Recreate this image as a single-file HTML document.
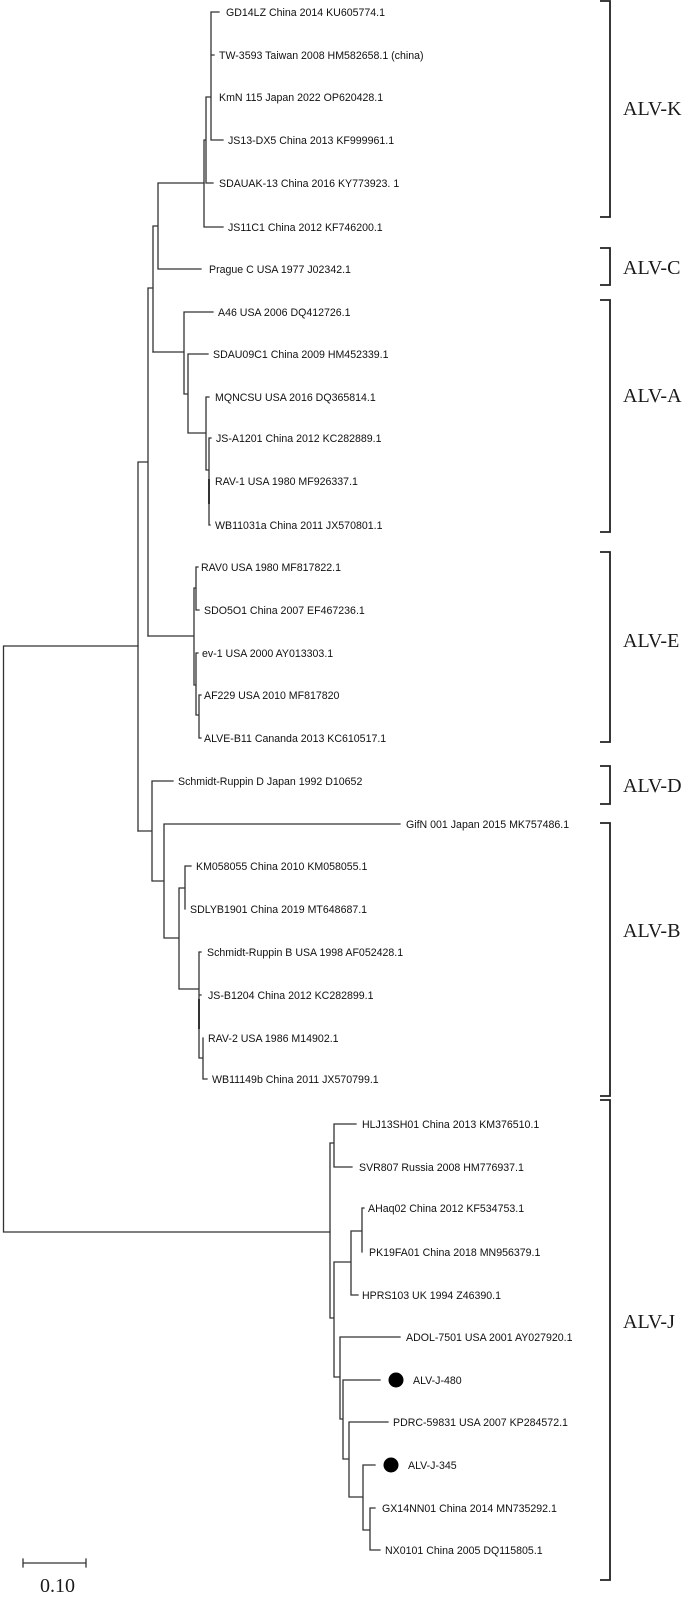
<!DOCTYPE html>
<html>
<head>
<meta charset="utf-8">
<style>
html,body{margin:0;padding:0;background:#fff;}
svg{display:block;}
.t{font-family:"Liberation Sans",Arial,sans-serif;font-size:10.6px;fill:#111;}
.c{font-family:"Liberation Serif","Times New Roman",serif;font-size:20px;fill:#1a1a1a;}
</style>
</head>
<body>
<svg width="700" height="1601" viewBox="0 0 700 1601" xmlns="http://www.w3.org/2000/svg">
<g fill="none" stroke="#333" stroke-width="1.3" stroke-linecap="square">
<!-- root -->
<path d="M3.5,646 V1232 M3.5,646 H138 M3.5,1232 H330"/>
<!-- upper clade -->
<path d="M138,462 V831 M138,462 H148 M148,288 V636 M148,288 H153 M153,226 V352 M153,226 H158 M158,183 V269 M158,269 H201 M158,183 H204"/>
<!-- K clade -->
<path d="M204,140 V227 M204,227 H223 M204,140 H206 M206,97 V183 M206,183 H213 M206,97 H211 M211,12 V140 M211,12 H219 M211,55 H214 M211,140 H223"/>
<!-- A clade -->
<path d="M153,352 H184 M184,312 V394 M184,312 H213 M184,394 H188 M188,354 V433 M188,354 H208 M188,433 H206 M206,397 V470 M206,397 H209 M206,470 H209 M209,438 V525 M209,438 H211 M209,525 H210"/>
<path d="M209,480 V503" stroke-width="2"/>
<!-- E clade -->
<path d="M148,636 H194 M194,588 V685 M194,588 H196 M196,567 V610 M196,567 H198 M196,610 H199 M194,685 H196 M196,653 V715 M196,653 H198 M196,715 H199 M199,695 V738 M199,695 H201 M199,738 H201"/>
<!-- D / B clade -->
<path d="M138,831 H152 M152,781 V881 M152,781 H173 M152,881 H164 M164,824 V938 M164,824 H400 M164,938 H179 M179,888 V989 M179,888 H185 M185,866 V909 M185,866 H191 M179,989 H199 M199,952 V1058 M199,952 H201 M199,995 H201 M199,1058 H203 M203,1038 V1079 M203,1079 H207"/>
<path d="M199,1000 V1028" stroke-width="2"/>
<!-- J clade -->
<path d="M330,1143 V1318 M330,1143 H334 M334,1124 V1167 M334,1124 H356 M334,1167 H352 M330,1318 H334 M334,1262 V1377 M334,1262 H351 M351,1231 V1295 M351,1231 H362 M362,1208 V1252 M362,1208 H364 M351,1295 H358 M334,1377 H340 M340,1337 V1419 M340,1337 H400 M340,1419 H343 M343,1380 V1459 M343,1380 H380 M343,1459 H349 M349,1422 V1497 M349,1422 H388 M349,1497 H363 M363,1465 V1530 M363,1465 H375 M363,1530 H370 M370,1508 V1550 M370,1508 H375 M370,1550 H380"/>
<!-- scale bar -->
<path d="M23,1563 H86 M23,1559 V1567 M86,1559 V1567"/>
</g>
<!-- dots -->
<circle cx="396" cy="1380" r="7.5" fill="#000"/>
<circle cx="391" cy="1465" r="7.5" fill="#000"/>
<!-- brackets -->
<g fill="none" stroke="#222" stroke-width="1.8">
<path d="M600,1 H610 V217 H600"/>
<path d="M600,248 H610 V285 H600"/>
<path d="M600,300 H610 V532 H600"/>
<path d="M600,552 H610 V742 H600"/>
<path d="M600,766 H610 V804 H600"/>
<path d="M600,823 H610 V1096 H600"/>
<path d="M600,1100 H610 V1580 H600"/>
</g>
<g class="c">
<text x="623" y="115">ALV-K</text>
<text x="623" y="274">ALV-C</text>
<text x="623" y="402">ALV-A</text>
<text x="623" y="647">ALV-E</text>
<text x="623" y="792">ALV-D</text>
<text x="623" y="937">ALV-B</text>
<text x="623" y="1328">ALV-J</text>
<text x="40" y="1592">0.10</text>
</g>
<g class="t">
<text x="226" y="16">GD14LZ China 2014 KU605774.1</text>
<text x="219" y="59">TW-3593 Taiwan 2008 HM582658.1 (china)</text>
<text x="219" y="101">KmN 115 Japan 2022 OP620428.1</text>
<text x="228" y="144">JS13-DX5 China 2013 KF999961.1</text>
<text x="219" y="187">SDAUAK-13 China 2016 KY773923. 1</text>
<text x="228" y="231">JS11C1 China 2012 KF746200.1</text>
<text x="209" y="273">Prague C USA 1977 J02342.1</text>
<text x="218" y="316">A46 USA 2006 DQ412726.1</text>
<text x="213" y="358">SDAU09C1 China 2009 HM452339.1</text>
<text x="215" y="401">MQNCSU USA 2016 DQ365814.1</text>
<text x="216" y="442">JS-A1201 China 2012 KC282889.1</text>
<text x="215" y="485">RAV-1 USA 1980 MF926337.1</text>
<text x="215" y="529">WB11031a China 2011 JX570801.1</text>
<text x="201" y="571">RAV0 USA 1980 MF817822.1</text>
<text x="204" y="614">SDO5O1 China 2007 EF467236.1</text>
<text x="202" y="657">ev-1 USA 2000 AY013303.1</text>
<text x="204" y="699">AF229 USA 2010 MF817820</text>
<text x="204" y="742">ALVE-B11 Cananda 2013 KC610517.1</text>
<text x="178" y="785">Schmidt-Ruppin D Japan 1992 D10652</text>
<text x="406" y="828">GifN 001 Japan 2015 MK757486.1</text>
<text x="196" y="870">KM058055 China 2010 KM058055.1</text>
<text x="190" y="913">SDLYB1901 China 2019 MT648687.1</text>
<text x="207" y="956">Schmidt-Ruppin B USA 1998 AF052428.1</text>
<text x="208" y="999">JS-B1204 China 2012 KC282899.1</text>
<text x="208" y="1042">RAV-2 USA 1986 M14902.1</text>
<text x="212" y="1083">WB11149b China 2011 JX570799.1</text>
<text x="362" y="1128">HLJ13SH01 China 2013 KM376510.1</text>
<text x="359" y="1171">SVR807 Russia 2008 HM776937.1</text>
<text x="368" y="1212">AHaq02 China 2012 KF534753.1</text>
<text x="369" y="1256">PK19FA01 China 2018 MN956379.1</text>
<text x="362" y="1299">HPRS103 UK 1994 Z46390.1</text>
<text x="406" y="1341">ADOL-7501 USA 2001 AY027920.1</text>
<text x="413" y="1384">ALV-J-480</text>
<text x="393" y="1426">PDRC-59831 USA 2007 KP284572.1</text>
<text x="408" y="1469">ALV-J-345</text>
<text x="382" y="1512">GX14NN01 China 2014 MN735292.1</text>
<text x="385" y="1554">NX0101 China 2005 DQ115805.1</text>
</g>
</svg>
</body>
</html>
